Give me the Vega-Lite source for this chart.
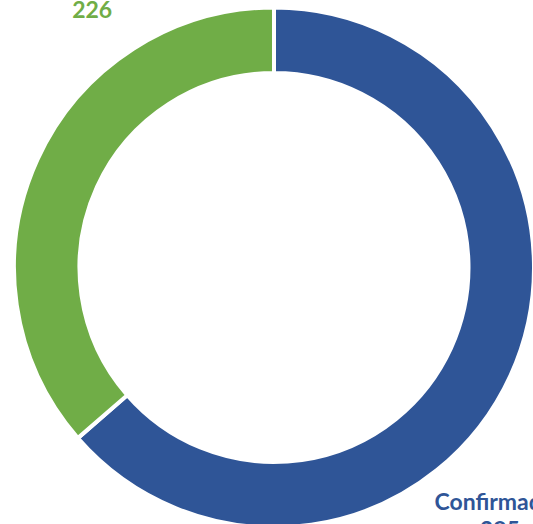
{
  "$schema": "https://vega.github.io/schema/vega-lite/v6.json",
  "width": 548,
  "height": 535,
  "padding": 0,
  "autosize": {"type": "none"},
  "background": "white",
  "view": {"stroke": null},
  "data": {"values": [
    {"category": "Confirmados", "value": 395},
    {"category": "Descartados", "value": 226}
  ]},
  "encoding": {
    "color": {"field": "category", "type": "nominal", "legend": null,
      "scale": {"domain": ["Confirmados", "Descartados"], "range": ["#2F5597", "#70AD47"]}}
  },
  "layer": [
    {
      "mark": {"type": "arc", "outerRadius": 260, "innerRadius": 194.5, "stroke": "white", "strokeWidth": 4},
      "encoding": {
        "theta": {"field": "value", "type": "quantitative", "stack": true},
        "order": {"field": "category", "type": "nominal", "sort": "ascending"}
      }
    },
    {
      "transform": [
        {"stack": "value", "groupby": [], "sort": [{"field": "category", "order": "ascending"}], "as": ["v0", "v1"]},
        {"calculate": "(datum.v0 + datum.v1) / 2", "as": "mid"},
        {"calculate": "[datum.category, format(datum.value, 'd')]", "as": "label"},
        {"filter": "datum.category === 'Confirmados'"}
      ],
      "mark": {"type": "text", "radius": 313, "dx": -59, "dy": 113, "align": "center", "baseline": "alphabetic",
        "font": "Lato", "fontWeight": "bold", "fontSize": 23, "lineHeight": 28},
      "encoding": {
        "theta": {"field": "mid", "type": "quantitative", "stack": null},
        "text": {"field": "label"}
      }
    },
    {
      "transform": [
        {"stack": "value", "groupby": [], "sort": [{"field": "category", "order": "ascending"}], "as": ["v0", "v1"]},
        {"calculate": "(datum.v0 + datum.v1) / 2", "as": "mid"},
        {"calculate": "[datum.category, format(datum.value, 'd')]", "as": "label"},
        {"filter": "datum.category === 'Descartados'"}
      ],
      "mark": {"type": "text", "radius": 313, "dx": 103, "dy": -148, "align": "center", "baseline": "alphabetic",
        "font": "Lato", "fontWeight": "bold", "fontSize": 23, "lineHeight": 28},
      "encoding": {
        "theta": {"field": "mid", "type": "quantitative", "stack": null},
        "text": {"field": "label"}
      }
    }
  ]
}
